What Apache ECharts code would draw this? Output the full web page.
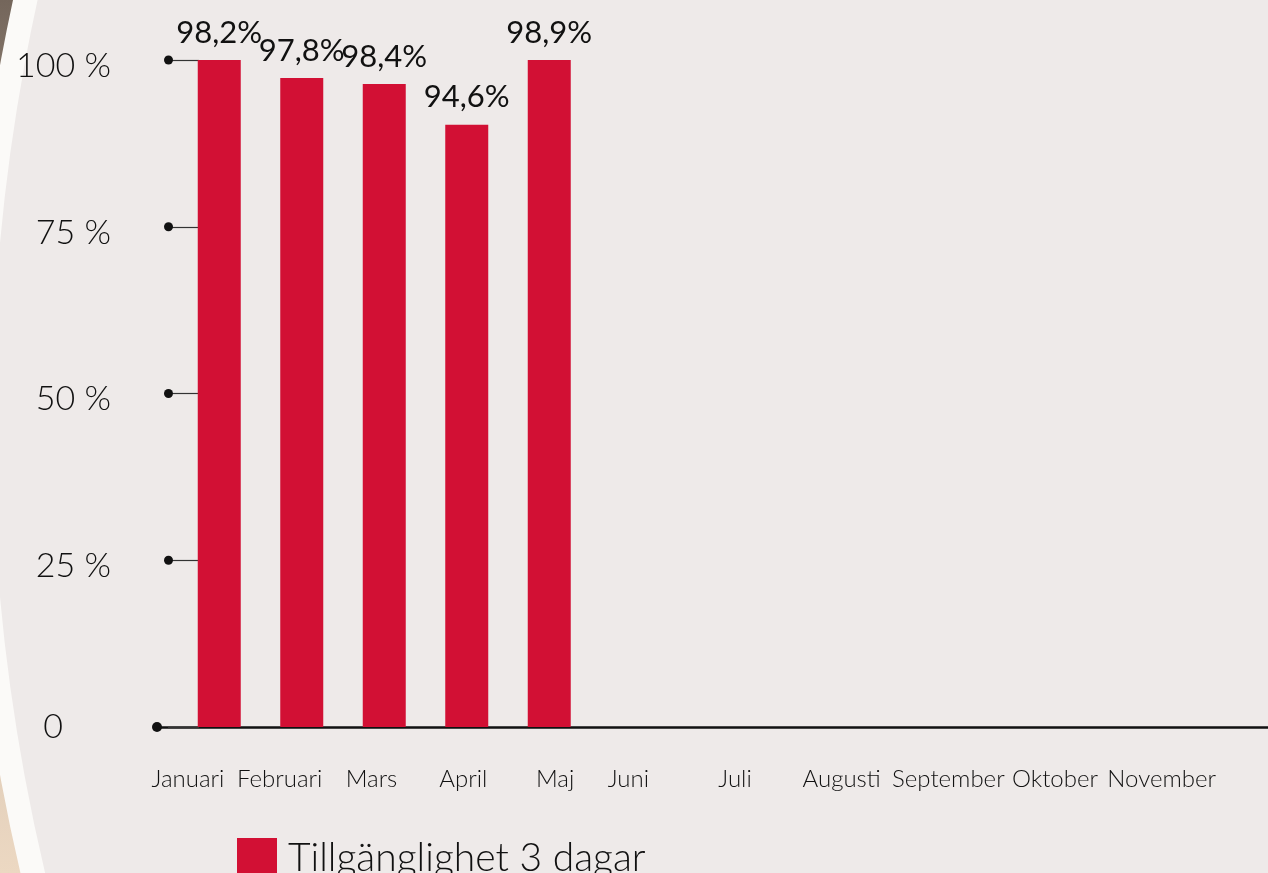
<!DOCTYPE html>
<html>
<head>
<meta charset="utf-8">
<script src="https://cdn.jsdelivr.net/npm/echarts@6/dist/echarts.min.js"></script>
<style>
  html, body { margin: 0; padding: 0; background: #eeeae9; }
  #chart { width: 1268px; height: 873px; }
</style>
</head>
<body>
<div id="chart"></div>
<script>
// months on the x axis (december is cut off in the picture)
var months = ['Januari', 'Februari', 'Mars', 'April', 'Maj', 'Juni',
              'Juli', 'Augusti', 'September', 'Oktober', 'November'];
// bar heights as drawn in the picture (percent)
var barHeights = [100, 97.3, 96.4, 90.3, 100];
// the numbers printed above the bars
var barTexts = ['98,2%', '97,8%', '98,4%', '94,6%', '98,9%'];
var yTicks = [0, 25, 50, 75, 100];
var seriesName = 'Tillgänglighet 3 dagar';

var chartDom = document.getElementById('chart');
var myChart = echarts.init(chartDom);
var option;

var font = 'Lato, "Noto Sans", sans-serif';
var ink = '#111111';
var red = '#d21034';

var gridTop = 60, gridBottom = 146;
var firstHalf = months.slice(0, 5);
var secondHalf = months.slice(5);

function hiddenY(idx) {
    return {
        gridIndex: idx,
        type: 'value',
        min: yTicks[0],
        max: yTicks[yTicks.length - 1],
        show: false
    };
}

function labelAxis(idx, data) {
    return {
        gridIndex: idx,
        type: 'category',
        data: data,
        axisLine: { show: false },
        axisTick: { show: false },
        axisLabel: {
            interval: 0,
            margin: 40,
            fontFamily: font,
            fontWeight: 300,
            fontSize: 24,
            color: ink
        }
    };
}

option = {
    backgroundColor: {
        type: 'linear', x: 0, y: 0, x2: 0, y2: 1,
        colorStops: [
            { offset: 0, color: '#74665b' },
            { offset: 0.5, color: '#c8b7a7' },
            { offset: 1, color: '#ecd8c2' }
        ]
    },
    animation: false,
    graphic: [{
        type: 'circle',
        z: -10,
        silent: true,
        shape: { cx: 1950, cy: 420, r: 1970 },
        style: { fill: '#eeeae9', stroke: '#fbfaf8', lineWidth: 24 }
    }],
    legend: {
        data: [seriesName],
        left: 232,
        top: 833,
        icon: 'rect',
        itemWidth: 40,
        itemHeight: 40,
        textStyle: {
            fontFamily: font,
            fontWeight: 300,
            fontSize: 39,
            color: ink,
            padding: [0, 0, 0, 6]
        }
    },
    grid: [
        // baseline + y labels
        { left: 157, right: 0, top: gridTop, bottom: gridBottom },
        // bars
        { left: 178, width: 82.5 * months.length, top: gridTop, bottom: gridBottom },
        // month labels, januari - maj
        { left: 142, width: 459, top: gridTop, bottom: gridBottom },
        // month labels, juni - november
        { left: 575, width: 640, top: gridTop, bottom: gridBottom }
    ],
    xAxis: [{
        gridIndex: 0,
        type: 'category',
        data: months,
        axisLine: {
            lineStyle: { color: ink, width: 2.5 },
            symbol: ['circle', 'none'],
            symbolSize: [10, 10]
        },
        axisTick: { show: false },
        axisLabel: { show: false }
    }, {
        gridIndex: 1,
        type: 'category',
        data: months,
        show: false
    },
    labelAxis(2, firstHalf),
    labelAxis(3, secondHalf)],
    yAxis: [{
        gridIndex: 0,
        type: 'value',
        min: yTicks[0],
        max: yTicks[yTicks.length - 1],
        interval: 25,
        offset: -42,
        axisLine: { show: false },
        splitLine: { show: false },
        axisTick: { show: true, length: 31, lineStyle: { color: '#333', width: 1.2 } },
        axisLabel: {
            margin: 26,
            formatter: function (v) {
                if (v === 0) return '{z|0}{g0|}';
                return '{t|' + v + ' %}{g|}{d| }';
            },
            rich: {
                t: { fontFamily: font, fontWeight: 300, fontSize: 34, color: ink, verticalAlign: 'middle', padding: [12, 0, 0, 0] },
                z: { fontFamily: font, fontWeight: 300, fontSize: 34, color: ink, verticalAlign: 'middle' },
                g: { width: 53 },
                g0: { width: 110 },
                d: { width: 9, height: 9, borderRadius: 4.5, backgroundColor: ink, verticalAlign: 'middle' }
            }
        }
    }, hiddenY(1), hiddenY(2), hiddenY(3)],
    series: [{
        name: seriesName,
        type: 'bar',
        xAxisIndex: 1,
        yAxisIndex: 1,
        data: barHeights,
        barWidth: 43,
        itemStyle: { color: red },
        label: {
            show: true,
            position: 'top',
            distance: 12,
            formatter: function (p) { return barTexts[p.dataIndex]; },
            fontFamily: font,
            fontSize: 31,
            color: ink
        }
    }]
};

option && myChart.setOption(option);
</script>
</body>
</html>
